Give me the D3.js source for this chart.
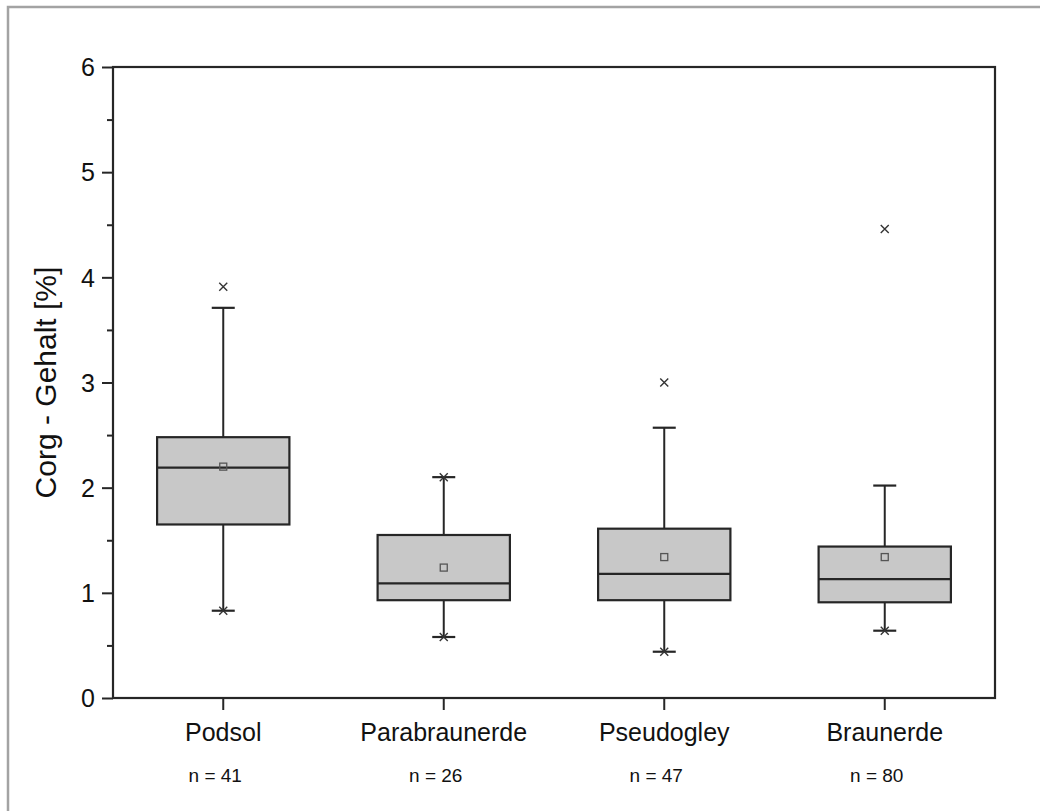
<!DOCTYPE html>
<html>
<head>
<meta charset="utf-8">
<script src="https://cdn.jsdelivr.net/npm/d3@7"></script>
<style>
  html, body { margin: 0; padding: 0; background: #fff; }
  svg { display: block; font-family: "Liberation Sans", Arial, sans-serif; }
</style>
</head>
<body>
<svg id="chart" width="1040" height="811"></svg>
<script>
// Soil types and sample sizes
const categories = ["Podsol", "Parabraunerde", "Pseudogley", "Braunerde"];
const counts = [41, 26, 47, 80];

// Box statistics of organic carbon content (%)
const whiskerLow  = [0.83, 0.58, 0.44, 0.64];
const q1          = [1.65, 0.93, 0.93, 0.91];
const median      = [2.19, 1.09, 1.18, 1.13];
const q3          = [2.48, 1.55, 1.61, 1.44];
const whiskerHigh = [3.71, 2.10, 2.57, 2.02];
const means       = [2.20, 1.24, 1.34, 1.34];
const minValues   = [0.83, 0.58, 0.44, 0.64];
const maxValues   = [3.91, 2.10, 3.00, 4.46];

// Axis ticks
const yTicks = [0, 1, 2, 3, 4, 5, 6];
const yMinorTicks = [0.5, 1.5, 2.5, 3.5, 4.5, 5.5];

const svg = d3.select("#chart");
const W = 1040, H = 811;
const plot = { left: 113, right: 995, top: 67, bottom: 698 };

// Outer frame of the figure
svg.append("rect")
  .attr("x", 8).attr("y", 7)
  .attr("width", W).attr("height", H)
  .attr("fill", "none")
  .attr("stroke", "#a3a3a3")
  .attr("stroke-width", 2.5);

const x = d3.scaleBand()
  .domain(categories)
  .range([plot.left, plot.right])
  .paddingInner(0).paddingOuter(0);

const y = d3.scaleLinear()
  .domain([0, 6])
  .range([plot.bottom, plot.top]);

const boxW = x.bandwidth() * 0.6;
const capW = 23;
const ink = "#262626";

// Y axis (major + minor ticks)
const yAxis = svg.append("g")
  .attr("transform", `translate(${plot.left},0)`)
  .call(d3.axisLeft(y).tickValues(yTicks).tickSize(11).tickPadding(7).tickFormat(d3.format("d")));
yAxis.select(".domain").remove();
yAxis.selectAll("line").attr("stroke", ink).attr("stroke-width", 2);
yAxis.selectAll("text")
  .attr("fill", "#111")
  .style("font-size", "25px")
  .attr("dy", "0.35em");

const yMinor = svg.append("g")
  .attr("transform", `translate(${plot.left},0)`)
  .call(d3.axisLeft(y).tickValues(yMinorTicks).tickSize(6).tickFormat(""));
yMinor.select(".domain").remove();
yMinor.selectAll("line").attr("stroke", ink).attr("stroke-width", 2);

// X axis
const xAxis = svg.append("g")
  .attr("transform", `translate(0,${plot.bottom})`)
  .call(d3.axisBottom(x).tickSize(12).tickPadding(13));
xAxis.select(".domain").remove();
xAxis.selectAll("line").attr("stroke", ink).attr("stroke-width", 2);
xAxis.selectAll("text")
  .attr("fill", "#111")
  .style("font-size", "25px");

// Plot frame
svg.append("rect")
  .attr("x", plot.left).attr("y", plot.top)
  .attr("width", plot.right - plot.left)
  .attr("height", plot.bottom - plot.top)
  .attr("fill", "none")
  .attr("stroke", ink)
  .attr("stroke-width", 2.2);

// Sample size labels
svg.append("g").selectAll("text")
  .data(categories)
  .join("text")
  .attr("x", (d) => x(d) + x.bandwidth() / 2 - 8)
  .attr("y", 782)
  .attr("text-anchor", "middle")
  .attr("fill", "#111")
  .style("font-size", "19px")
  .text((d, i) => `n = ${counts[i]}`);

// Y axis title
svg.append("text")
  .attr("transform", `translate(56,${(plot.top + plot.bottom) / 2}) rotate(-90)`)
  .attr("text-anchor", "middle")
  .attr("fill", "#111")
  .style("font-size", "30px")
  .text("Corg - Gehalt [%]");

// Boxes
const boxes = svg.append("g").selectAll("g")
  .data(categories)
  .join("g")
  .attr("transform", (d) => `translate(${x(d) + x.bandwidth() / 2},0)`);

// Whiskers
boxes.append("line")
  .attr("x1", 0).attr("x2", 0)
  .attr("y1", (d, i) => y(whiskerHigh[i]))
  .attr("y2", (d, i) => y(q3[i]))
  .attr("stroke", ink).attr("stroke-width", 2);
boxes.append("line")
  .attr("x1", 0).attr("x2", 0)
  .attr("y1", (d, i) => y(q1[i]))
  .attr("y2", (d, i) => y(whiskerLow[i]))
  .attr("stroke", ink).attr("stroke-width", 2);
boxes.append("line")
  .attr("x1", -capW / 2).attr("x2", capW / 2)
  .attr("y1", (d, i) => y(whiskerHigh[i]))
  .attr("y2", (d, i) => y(whiskerHigh[i]))
  .attr("stroke", ink).attr("stroke-width", 2.2);
boxes.append("line")
  .attr("x1", -capW / 2).attr("x2", capW / 2)
  .attr("y1", (d, i) => y(whiskerLow[i]))
  .attr("y2", (d, i) => y(whiskerLow[i]))
  .attr("stroke", ink).attr("stroke-width", 2.2);

// Interquartile box
boxes.append("rect")
  .attr("x", -boxW / 2)
  .attr("width", boxW)
  .attr("y", (d, i) => y(q3[i]))
  .attr("height", (d, i) => y(q1[i]) - y(q3[i]))
  .attr("fill", "#c8c8c8")
  .attr("stroke", ink)
  .attr("stroke-width", 2.2);

// Median
boxes.append("line")
  .attr("x1", -boxW / 2).attr("x2", boxW / 2)
  .attr("y1", (d, i) => y(median[i]))
  .attr("y2", (d, i) => y(median[i]))
  .attr("stroke", ink).attr("stroke-width", 2.2);

// Mean marker
const sq = 7;
boxes.append("rect")
  .attr("x", -sq / 2)
  .attr("y", (d, i) => y(means[i]) - sq / 2)
  .attr("width", sq).attr("height", sq)
  .attr("fill", "none")
  .attr("stroke", "#555")
  .attr("stroke-width", 1.3);

// Min / max markers
const xs = 4;
function cross(sel, values) {
  sel.append("path")
    .attr("d", (d, i) => {
      const cy = y(values[i]);
      return `M${-xs},${cy - xs}L${xs},${cy + xs}M${-xs},${cy + xs}L${xs},${cy - xs}`;
    })
    .attr("stroke", "#333")
    .attr("stroke-width", 1.4)
    .attr("fill", "none");
}
cross(boxes, maxValues);
cross(boxes, minValues);
</script>
</body>
</html>
